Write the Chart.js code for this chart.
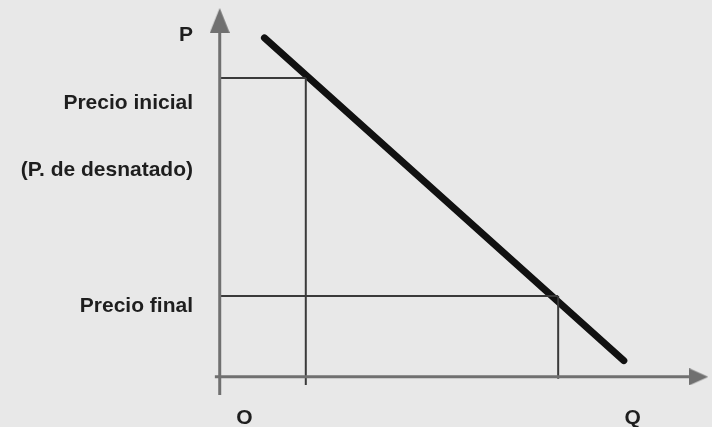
<!DOCTYPE html>
<html>
<head>
<meta charset="utf-8">
<script src="https://cdn.jsdelivr.net/npm/chart.js@4/dist/chart.umd.min.js"></script>
<style>
  html, body { margin: 0; padding: 0; background: #e8e8e8; }
  canvas { display: block; }
</style>
</head>
<body>
<canvas id="skimming" width="712" height="427"></canvas>
<script>
// ticks on the price axis (P) and the quantity axis (Q)
const priceTicks = [92.5, 74.2, 56.0, 19.2];
const priceLabels = ["P", "Precio inicial", "(P. de desnatado)", "Precio final"];
const quantityTicks = [5.1, 84.9];
const quantityLabels = ["O", "Q"];

// demand curve, two ends
const demandQ = [9.2, 83.1];
const demandP = [91.9, 4.4];

// skimming price and the later price, with the quantity sold at each
const initialPrice = 81.0;
const initialQty = 17.7;
const finalPrice = 21.9;
const finalQty = 69.6;

// axis lines and where their arrows sit
const xAxisQ = [-1, 96.5];
const yAxisP = [-4.9, 94];
const xArrow = { x: 98.5, y: 0 };
const yArrow = { x: 0, y: 96.6 };

const axisGrey = '#707070';
const guideGrey = '#3a3a3a';

// little triangles for the arrow heads
function makeArrow(w, h, dir) {
    const c = document.createElement('canvas');
    c.width = w;
    c.height = h;
    const g = c.getContext('2d');
    g.fillStyle = axisGrey;
    g.beginPath();
    if (dir === 'up') {
        g.moveTo(w / 2, 0);
        g.lineTo(w, h);
        g.lineTo(0, h);
    } else {
        g.moveTo(w, h / 2);
        g.lineTo(0, h);
        g.lineTo(0, 0);
    }
    g.closePath();
    g.fill();
    return c;
}

const upArrow = makeArrow(20, 25, 'up');
const rightArrow = makeArrow(19, 17, 'right');

function seg(x0, y0, x1, y1) {
    return [{ x: x0, y: y0 }, { x: x1, y: y1 }];
}

const lineDefaults = { showLine: true, pointRadius: 0, clip: false, fill: false };
const labelFont = { family: 'Liberation Sans', size: 21, weight: 'bold' };

const ctx = document.getElementById('skimming');

new Chart(ctx, {
    type: 'scatter',
    data: {
        datasets: [
            // axes
            { ...lineDefaults, data: seg(0, yAxisP[0], 0, yAxisP[1]), borderColor: axisGrey, borderWidth: 3 },
            { ...lineDefaults, data: seg(xAxisQ[0], 0, xAxisQ[1], 0), borderColor: axisGrey, borderWidth: 3 },
            // guide lines for the initial price
            { ...lineDefaults, data: seg(0, initialPrice, initialQty, initialPrice), borderColor: guideGrey, borderWidth: 2 },
            { ...lineDefaults, data: seg(initialQty, initialPrice, initialQty, -2.2), borderColor: guideGrey, borderWidth: 2 },
            // guide lines for the final price
            { ...lineDefaults, data: seg(0, finalPrice, finalQty, finalPrice), borderColor: guideGrey, borderWidth: 2 },
            { ...lineDefaults, data: seg(finalQty, finalPrice, finalQty, -0.5), borderColor: guideGrey, borderWidth: 2 },
            // demand
            {
                ...lineDefaults,
                data: demandQ.map((q, i) => ({ x: q, y: demandP[i] })),
                borderColor: '#111111',
                borderWidth: 7,
                borderCapStyle: 'round'
            },
            // arrow heads
            { data: [yArrow], pointStyle: upArrow, pointRadius: 5, clip: false },
            { data: [xArrow], pointStyle: rightArrow, pointRadius: 5, clip: false }
        ]
    },
    options: {
        responsive: false,
        animation: false,
        events: [],
        layout: { padding: { top: 8, right: 2, left: 0, bottom: 0 } },
        plugins: {
            legend: { display: false },
            tooltip: { enabled: false }
        },
        scales: {
            x: {
                type: 'linear',
                min: -2,
                max: 100,
                border: { display: false },
                grid: { display: false, drawTicks: false },
                afterBuildTicks: (scale) => {
                    scale.ticks = quantityTicks.map(v => ({ value: v }));
                },
                afterFit: (scale) => {
                    scale.height = 28;
                    scale.paddingLeft = 0;
                    scale.paddingRight = 0;
                },
                ticks: {
                    autoSkip: false,
                    maxRotation: 0,
                    padding: 7,
                    color: '#1e1e1e',
                    font: labelFont,
                    callback: (value, index) => quantityLabels[index]
                }
            },
            y: {
                type: 'linear',
                min: -6,
                max: 100,
                border: { display: false },
                grid: { display: false, drawTicks: false },
                afterBuildTicks: (scale) => {
                    scale.ticks = priceTicks.map(v => ({ value: v }));
                },
                afterFit: (scale) => {
                    scale.width = 210;
                    scale.paddingTop = 0;
                    scale.paddingBottom = 0;
                },
                ticks: {
                    autoSkip: false,
                    padding: 17,
                    color: '#1e1e1e',
                    font: labelFont,
                    callback: (value, index) => priceLabels[index]
                }
            }
        }
    }
});
</script>
</body>
</html>
